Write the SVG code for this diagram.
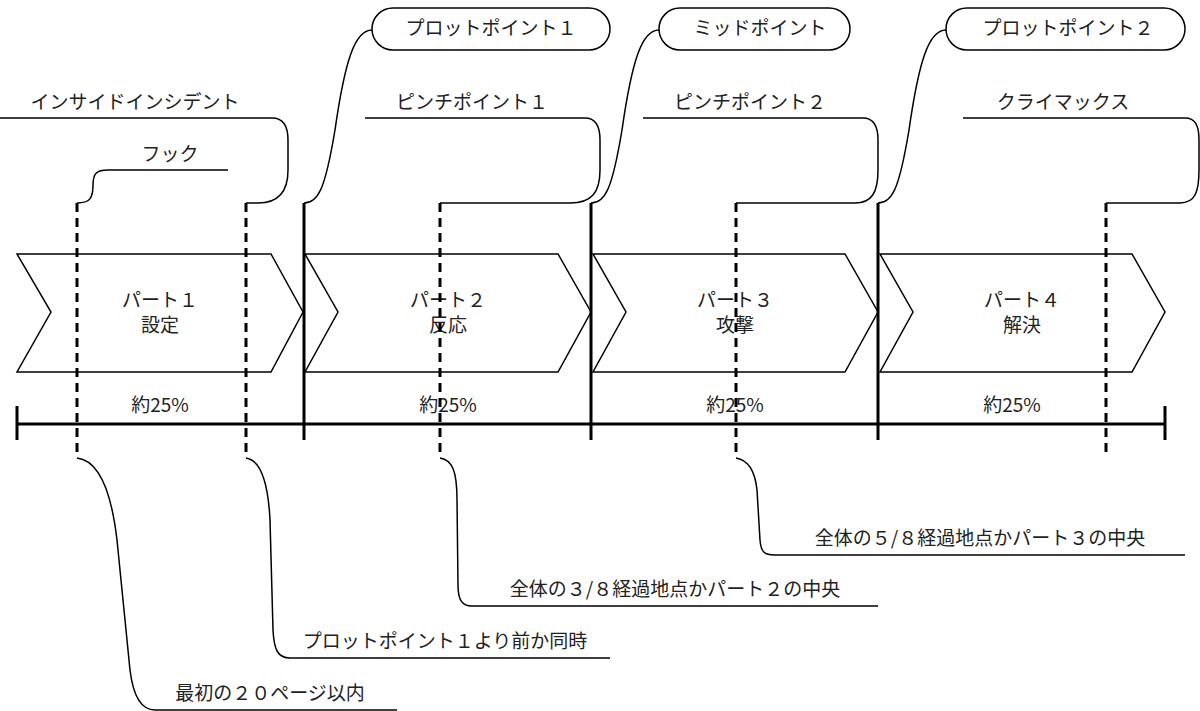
<svg xmlns="http://www.w3.org/2000/svg" width="1200" height="711" viewBox="0 0 1200 711">
<style>
text{font-family:"Noto Sans CJK JP","Liberation Sans",sans-serif;font-size:19px;fill:#222;text-anchor:middle}
.c{fill:none;stroke:#000;stroke-width:1.5}
.ch{fill:#fff;stroke:#000;stroke-width:1.5}
.d{stroke:#000;stroke-width:3;stroke-dasharray:9,6;fill:none}
.s{stroke:#000;stroke-width:3;fill:none}
.b{fill:#fff;stroke:#000;stroke-width:1.5}
</style>
<rect width="1200" height="711" fill="#fff"/>
<g id="parts">
<g id="part1"><path class="ch" d="M17,254 L271,254 L303,312 L271,372 L17,372 L51,312 Z"/><text x="160" y="307">パート１</text><text x="160" y="332">設定</text></g>
<g id="part2"><path class="ch" d="M305,254 L558,254 L591,312 L558,372 L305,372 L338,312 Z"/><text x="448" y="307">パート２</text><text x="448" y="332">反応</text></g>
<g id="part3"><path class="ch" d="M593,254 L845,254 L878,312 L845,372 L593,372 L626,312 Z"/><text x="735" y="307">パート３</text><text x="735" y="332">攻撃</text></g>
<g id="part4"><path class="ch" d="M880,254 L1132,254 L1165,312 L1132,372 L880,372 L913,312 Z"/><text x="1022" y="307">パート４</text><text x="1022" y="332">解決</text></g>
</g>
<g id="timeline">
<path class="s" d="M17,424 H1165 M17,406 V440 M1165,406 V440"/>
<text x="160" y="412">約25%</text><text x="448" y="412">約25%</text><text x="735" y="412">約25%</text><text x="1012" y="412">約25%</text>
</g>
<g id="markers">
<path class="s" d="M304,203 V440 M591,203 V440 M878,203 V440"/>
<path class="d" d="M77,203 V458 M246,203 V458 M440,203 V458 M736,203 V458 M1106,203 V458"/>
</g>
<g id="connectors">
<path class="c" d="M77,203 C90,203 93,198 93,185 C93,173 97,170 108,170 L228,170"/>
<path class="c" d="M246,203 L258,203 C280,203 288,190 288,170 L288,140 C288,125 283,118 272,118 L0,118"/>
<path class="c" d="M304,203 C318,203 325,190 335,130 C345,60 355,30 372,30"/>
<path class="c" d="M440,203 L570,203 C592,203 600,192 600,170 L600,140 C600,125 595,118 585,118 L365,118"/>
<path class="c" d="M591,203 C605,203 612,190 622,130 C632,60 642,30 659,30"/>
<path class="c" d="M736,203 L855,203 C872,203 878,192 878,170 L878,140 C878,125 873,118 863,118 L643,118"/>
<path class="c" d="M878,203 C892,203 899,190 909,130 C919,60 929,30 946,30"/>
<path class="c" d="M1106,203 L1180,203 C1195,203 1199,192 1199,170 L1199,140 C1199,125 1195,118 1185,118 L963,118"/>
<path class="c" d="M77,458 C95,460 110,480 117,540 L130,670 C133,695 140,710 155,710 L397,710"/>
<path class="c" d="M246,458 C260,460 268,480 270,520 L273,630 C274,650 278,658 290,658 L610,658"/>
<path class="c" d="M440,458 C452,460 457,470 457,500 L458,585 C458,600 462,606 472,606 L878,606"/>
<path class="c" d="M736,458 C748,460 755,470 757,490 L760,540 C761,552 764,555 775,555 L1185,555"/>
</g>
<g id="labels">
<text x="135" y="109">インサイドインシデント</text>
<text x="170" y="161">フック</text>
<text x="472" y="109">ピンチポイント１</text>
<text x="750" y="109">ピンチポイント２</text>
<text x="1063" y="109">クライマックス</text>
<text x="270" y="700">最初の２０ページ以内</text>
<text x="445" y="648">プロットポイント１より前か同時</text>
<text x="675" y="596">全体の３/８経過地点かパート２の中央</text>
<text x="980" y="545">全体の５/８経過地点かパート３の中央</text>
</g>
<g id="pp1"><rect class="b" x="372" y="8" width="238" height="42" rx="21"/><text x="491" y="35">プロットポイント１</text></g>
<g id="mid"><rect class="b" x="659" y="8" width="191" height="42" rx="21"/><text x="760" y="35">ミッドポイント</text></g>
<g id="pp2"><rect class="b" x="946" y="8" width="239" height="42" rx="21"/><text x="1068" y="35">プロットポイント２</text></g>
</svg>
